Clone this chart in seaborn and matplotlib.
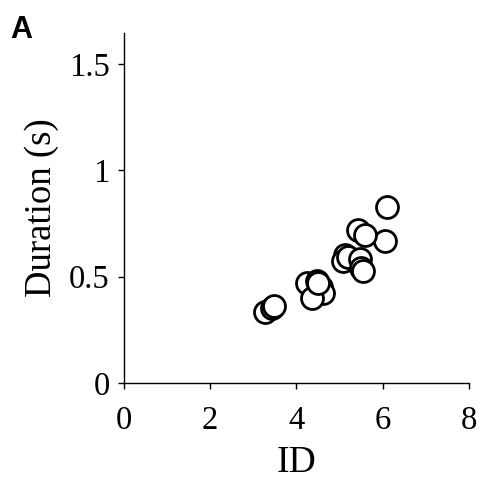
import matplotlib
matplotlib.use("Agg")
import matplotlib.pyplot as plt
import seaborn as sns
import pandas as pd

ids = [6.09, 6.05, 5.43, 5.59, 5.12, 5.08, 5.20, 5.47, 5.51, 5.55,
       4.24, 4.47, 4.58, 4.62, 4.37, 4.50, 3.27, 3.43, 3.48]
durations = [0.826, 0.669, 0.719, 0.696, 0.602, 0.575, 0.59, 0.581, 0.539, 0.528,
             0.469, 0.48, 0.453, 0.422, 0.398, 0.47, 0.335, 0.351, 0.36]
xticks = [0, 2, 4, 6, 8]
yticks = [0, 0.5, 1, 1.5]
ytick_labels = ["0", "0.5", "1", "1.5"]

df = pd.DataFrame({"ID": ids, "Duration": durations})

sns.set_style("ticks")
plt.rcParams["font.family"] = "serif"
plt.rcParams["font.serif"] = ["Liberation Serif"]
plt.rcParams["text.color"] = "black"
plt.rcParams["axes.labelcolor"] = "black"

fig = plt.figure(figsize=(4.81, 4.84), dpi=100)
ax = fig.add_axes([0.257, 0.2087, 0.718, 0.7233])
sns.scatterplot(data=df, x="ID", y="Duration", ax=ax, s=250, facecolor="white",
                edgecolor="black", linewidth=2.0, legend=False)
ax.set_xlim(0, 8)
ax.set_ylim(0, 1.645)
ax.set_xticks(xticks)
ax.set_xticklabels([str(t) for t in xticks])
ax.set_yticks(yticks)
ax.set_yticklabels(ytick_labels)
ax.tick_params(direction="out", length=4, width=1, labelsize=23.5, colors="black", pad=6)
ax.tick_params(axis="x", pad=12)
for s in ["top", "right"]:
    ax.spines[s].set_visible(False)
for s in ["left", "bottom"]:
    ax.spines[s].set_linewidth(1)
    ax.spines[s].set_color("black")
ax.set_xlabel("ID", fontsize=27, labelpad=7, color="black")
ax.set_ylabel("Duration (s)", fontsize=26.5, labelpad=7, color="black")
fig.text(0.021, 1 - 38 / 484, "A", fontsize=22, fontweight="bold", family="Liberation Sans",
         va="baseline", ha="left", color="black")
fig.savefig("out.png", dpi=100)
